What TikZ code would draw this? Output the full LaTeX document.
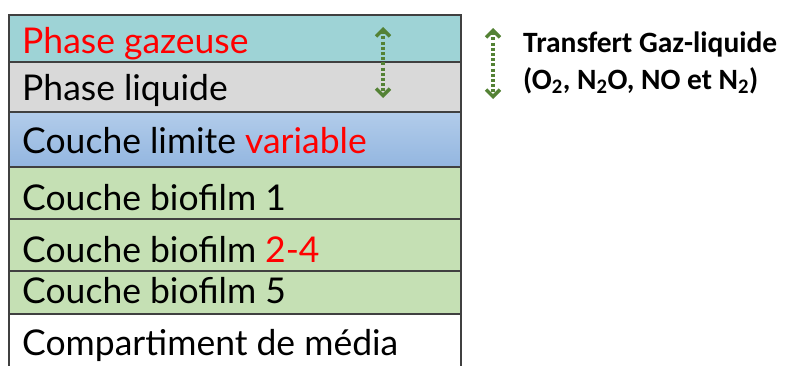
\documentclass[tikz,border=0pt]{standalone}
\usepackage{fontspec}
\setmainfont{Lato}
\newfontfamily\legendfont{Carlito}
\usetikzlibrary{arrows.meta,positioning}
\definecolor{ink}{RGB}{64,64,64}
\definecolor{hot}{RGB}{255,0,0}
\definecolor{gasfill}{RGB}{158,211,214}
\definecolor{liqfill}{RGB}{217,217,217}
\definecolor{bltop}{RGB}{178,204,234}
\definecolor{blbot}{RGB}{147,182,224}
\definecolor{biofill}{RGB}{197,224,180}
\definecolor{xfer}{RGB}{84,130,53}
\tikzset{
  every picture/.style={x=1pt, y=-1pt},
  layer/.style={draw=ink, line width=1.3pt, anchor=north west, minimum width=452pt, inner sep=0pt, outer sep=0pt},
  gasrow/.style={layer, fill=gasfill},
  liqrow/.style={layer, fill=liqfill},
  blrow/.style={layer, top color=bltop, bottom color=blbot},
  biorow/.style={layer, fill=biofill},
  medrow/.style={layer, fill=white},
  tag/.style={anchor=base west, inner sep=0pt, font=\fontsize{35.5}{36}\selectfont},
  legend/.style={anchor=base west, inner sep=0pt, font=\legendfont\bfseries\fontsize{29.5}{30}\selectfont},
  barb/.tip={Straight Barb[length=7pt, width=14pt, line width=3.4pt]},
  swap/.style={draw=xfer, line width=3.4pt, dash pattern=on 3pt off 2.2pt, barb-barb},
}

\begin{document}
\begin{tikzpicture}
  \useasboundingbox (0,0) rectangle (786,365);
  \clip (0,0) rectangle (786,365);
  % layers of the column, top to bottom
  \foreach \n/\t/\b/\s/\y/\txt in {
      gas/15/62/gasrow/53/{\textcolor{hot}{Phase gazeuse}},
      liq/62/112/liqrow/100/{Phase liquide},
      bl/112/167/blrow/153/{Couche limite \textcolor{hot}{variable}},
      bioa/167/219/biorow/210/{Couche biofilm 1},
      biob/219/271/biorow/262/{Couche biofilm \textcolor{hot}{2-4}},
      bioc/271/314/biorow/303/{Couche biofilm 5},
      med/314/372/medrow/355/{Compartiment de média}} {
    \node[\s, minimum height={(\b-\t)*1pt}] (\n) at (9,\t) {};
    \node[tag] (\n-txt) at (22,\y) {\txt};
  }
  \coordinate (inTop) at (383,27);
  \coordinate (inBot) at (383,98);
  \draw[swap] (inTop) -- (inBot);
  % legend
  \coordinate (legTop) at (493,28);
  \coordinate (legBot) at (493,99);
  \draw[swap] (legTop) -- (legBot);
  \node[legend] (leg1) at (523,52) {Transfert Gaz-liquide};
  \node[legend] (leg2) at (523,89) {(O\textsubscript{2}, N\textsubscript{2}O, NO et N\textsubscript{2})};
\end{tikzpicture}
\end{document}
